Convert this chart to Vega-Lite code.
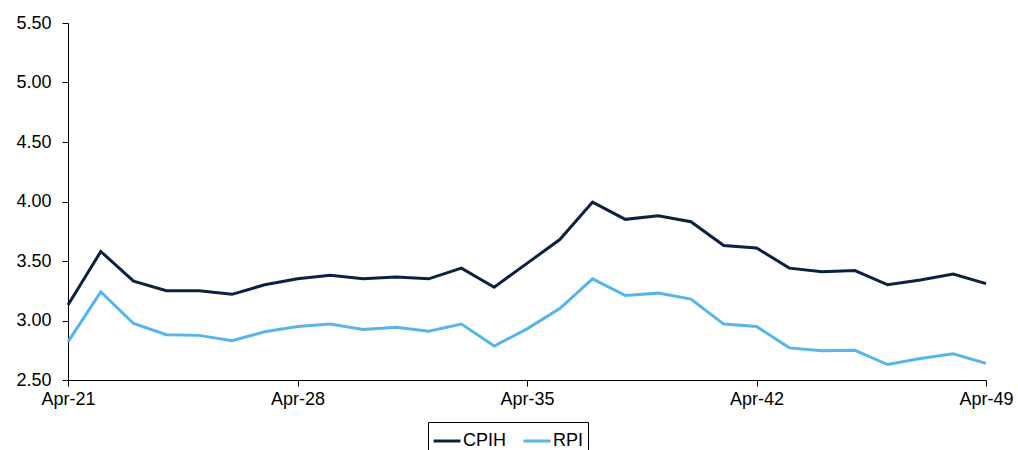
{
  "$schema": "https://vega.github.io/schema/vega-lite/v6.json",
  "width": 918,
  "height": 357,
  "autosize": {"type": "none"},
  "padding": {"left": 68, "top": 23, "right": 32, "bottom": 70},
  "background": "white",
  "config": {
    "view": {"stroke": null},
    "font": "Liberation Sans",
    "axis": {"labelFont": "Liberation Sans", "labelFontSize": 18, "labelColor": "#000000", "domainColor": "#000000", "tickColor": "#000000", "grid": false}
  },
  "data": {
    "values": [
      {"year": 2021, "series": "CPIH", "value": 3.13},
      {"year": 2022, "series": "CPIH", "value": 3.58},
      {"year": 2023, "series": "CPIH", "value": 3.33},
      {"year": 2024, "series": "CPIH", "value": 3.25},
      {"year": 2025, "series": "CPIH", "value": 3.25},
      {"year": 2026, "series": "CPIH", "value": 3.22},
      {"year": 2027, "series": "CPIH", "value": 3.30},
      {"year": 2028, "series": "CPIH", "value": 3.35},
      {"year": 2029, "series": "CPIH", "value": 3.38},
      {"year": 2030, "series": "CPIH", "value": 3.35},
      {"year": 2031, "series": "CPIH", "value": 3.365},
      {"year": 2032, "series": "CPIH", "value": 3.35},
      {"year": 2033, "series": "CPIH", "value": 3.44},
      {"year": 2034, "series": "CPIH", "value": 3.28},
      {"year": 2035, "series": "CPIH", "value": 3.48},
      {"year": 2036, "series": "CPIH", "value": 3.68},
      {"year": 2037, "series": "CPIH", "value": 3.995},
      {"year": 2038, "series": "CPIH", "value": 3.85},
      {"year": 2039, "series": "CPIH", "value": 3.88},
      {"year": 2040, "series": "CPIH", "value": 3.83},
      {"year": 2041, "series": "CPIH", "value": 3.63},
      {"year": 2042, "series": "CPIH", "value": 3.61},
      {"year": 2043, "series": "CPIH", "value": 3.44},
      {"year": 2044, "series": "CPIH", "value": 3.41},
      {"year": 2045, "series": "CPIH", "value": 3.42},
      {"year": 2046, "series": "CPIH", "value": 3.30},
      {"year": 2047, "series": "CPIH", "value": 3.34},
      {"year": 2048, "series": "CPIH", "value": 3.39},
      {"year": 2049, "series": "CPIH", "value": 3.31},
      {"year": 2021, "series": "RPI", "value": 2.82},
      {"year": 2022, "series": "RPI", "value": 3.24},
      {"year": 2023, "series": "RPI", "value": 2.975},
      {"year": 2024, "series": "RPI", "value": 2.88},
      {"year": 2025, "series": "RPI", "value": 2.875},
      {"year": 2026, "series": "RPI", "value": 2.83},
      {"year": 2027, "series": "RPI", "value": 2.905},
      {"year": 2028, "series": "RPI", "value": 2.95},
      {"year": 2029, "series": "RPI", "value": 2.97},
      {"year": 2030, "series": "RPI", "value": 2.925},
      {"year": 2031, "series": "RPI", "value": 2.944},
      {"year": 2032, "series": "RPI", "value": 2.91},
      {"year": 2033, "series": "RPI", "value": 2.97},
      {"year": 2034, "series": "RPI", "value": 2.785},
      {"year": 2035, "series": "RPI", "value": 2.93},
      {"year": 2036, "series": "RPI", "value": 3.10},
      {"year": 2037, "series": "RPI", "value": 3.35},
      {"year": 2038, "series": "RPI", "value": 3.21},
      {"year": 2039, "series": "RPI", "value": 3.23},
      {"year": 2040, "series": "RPI", "value": 3.18},
      {"year": 2041, "series": "RPI", "value": 2.97},
      {"year": 2042, "series": "RPI", "value": 2.95},
      {"year": 2043, "series": "RPI", "value": 2.77},
      {"year": 2044, "series": "RPI", "value": 2.745},
      {"year": 2045, "series": "RPI", "value": 2.75},
      {"year": 2046, "series": "RPI", "value": 2.63},
      {"year": 2047, "series": "RPI", "value": 2.68},
      {"year": 2048, "series": "RPI", "value": 2.72},
      {"year": 2049, "series": "RPI", "value": 2.64}
    ]
  },
  "mark": {"type": "line", "strokeWidth": 3, "strokeJoin": "miter"},
  "encoding": {
    "x": {
      "field": "year",
      "type": "quantitative",
      "scale": {"domain": [2021, 2049], "nice": false, "zero": false},
      "axis": {
        "title": null,
        "values": [2021, 2028, 2035, 2042, 2049],
        "labelExpr": "'Apr-' + substring(toString(datum.value), 2, 4)",
        "tickSize": 6,
        "labelPadding": 4,
        "labelFlush": false,
        "labelOverlap": false
      }
    },
    "y": {
      "field": "value",
      "type": "quantitative",
      "scale": {"domain": [2.5, 5.5], "nice": false, "zero": false},
      "axis": {
        "title": null,
        "values": [2.5, 3.0, 3.5, 4.0, 4.5, 5.0, 5.5],
        "format": ".2f",
        "tickSize": 6,
        "labelPadding": 11
      }
    },
    "color": {
      "field": "series",
      "type": "nominal",
      "scale": {"domain": ["CPIH", "RPI"], "range": ["#0a2240", "#56b6e9"]},
      "legend": {
        "title": null,
        "orient": "none",
        "legendX": 360,
        "legendY": 399,
        "direction": "horizontal",
        "symbolType": "stroke",
        "symbolSize": 729,
        "symbolStrokeWidth": 3,
        "labelFontSize": 18,
        "labelFont": "Liberation Sans",
        "labelColor": "#000000",
        "labelOffset": 1,
        "columnPadding": 10,
        "strokeColor": "#000000",
        "padding": 4,
        "fillColor": "white"
      }
    }
  }
}
